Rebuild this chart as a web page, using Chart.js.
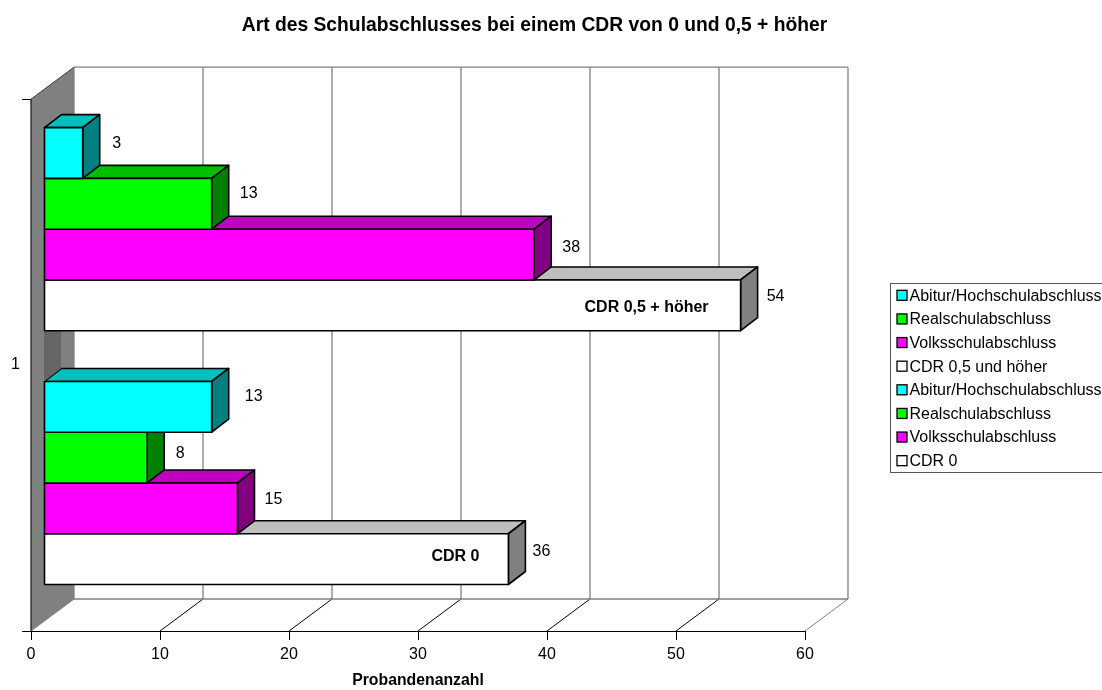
<!DOCTYPE html>
<html>
<head>
<meta charset="utf-8">
<title>Art des Schulabschlusses</title>
<script src="https://cdn.jsdelivr.net/npm/chart.js@4/dist/chart.umd.min.js"></script>
<style>
    body { margin: 0; background: #fff; }
    canvas { display: block; }
</style>
</head>
<body>
<canvas id="barChart" width="1102" height="690"></canvas>
<script>
const categories = ["1"];
const chartTitle = "Art des Schulabschlusses bei einem CDR von 0 und 0,5 + höher";
const axisTitle = "Probandenanzahl";

// first entries are the top bars, the unnamed one is the empty series between the two groups
const seriesNames = ["Abitur/Hochschulabschluss", "Realschulabschluss", "Volksschulabschluss", "CDR 0,5 und höher", "",
    "Abitur/Hochschulabschluss", "Realschulabschluss", "Volksschulabschluss", "CDR 0"];
const seriesValues = [3, 13, 38, 54, 0, 13, 8, 15, 36];
const barCaptions = ["", "", "", "CDR 0,5 + höher", "", "", "", "", "CDR 0"];

const frontColors = ["#00ffff", "#00ff00", "#ff00ff", "#ffffff", "#ffffff", "#00ffff", "#00ff00", "#ff00ff", "#ffffff"];
const topColors = ["#00bfbf", "#00bf00", "#bf00bf", "#bfbfbf", "#bfbfbf", "#00bfbf", "#00bf00", "#bf00bf", "#bfbfbf"];
const sideColors = ["#008080", "#008000", "#800080", "#808080", "#666666", "#008080", "#008000", "#800080", "#808080"];

// hand placed labels, relative to the end and middle of each bar
const labelNudge = [[34, -9], [37, -10], [37, -7], [35, -9], [0, 0], [42, -10], [33, -4], [36, -9], [33, -8]];
const captionNudge = [null, null, null, [-32, 2], null, null, null, null, [-29, -3]];

const FONT = "'Liberation Sans', Arial, sans-serif";
const WALL = { dx: 43, dy: -32 };
const BAR_SHIFT = { dx: 13, dy: -9 };
const BAR_DEPTH = { dx: 17, dy: -13 };
const GREY = "#808080";
const EDGE = 1.6;

function line(ctx, x1, y1, x2, y2, color, width) {
    ctx.strokeStyle = color;
    ctx.lineWidth = width;
    ctx.beginPath();
    ctx.moveTo(x1, y1);
    ctx.lineTo(x2, y2);
    ctx.stroke();
}

function poly(ctx, points, fill, outlined) {
    ctx.fillStyle = fill;
    ctx.strokeStyle = "#000";
    ctx.lineWidth = EDGE;
    ctx.lineJoin = "round";
    ctx.beginPath();
    points.forEach((p, i) => i ? ctx.lineTo(p[0], p[1]) : ctx.moveTo(p[0], p[1]));
    ctx.closePath();
    ctx.fill();
    if (outlined) ctx.stroke();
}

// Grey wall, back wall and floor lines behind the bars
const wallsPlugin = {
    id: "walls",
    beforeDatasetsDraw(chart) {
        const { ctx, chartArea: a, scales: { x } } = chart;
        const backTop = a.top + WALL.dy, backBottom = a.bottom + WALL.dy;
        ctx.save();
        ctx.fillStyle = GREY;
        ctx.beginPath();
        ctx.moveTo(a.left, a.top);
        ctx.lineTo(a.left + WALL.dx, backTop);
        ctx.lineTo(a.left + WALL.dx, backBottom);
        ctx.lineTo(a.left, a.bottom);
        ctx.closePath();
        ctx.fill();

        x.ticks.forEach((tick, i) => {
            const px = x.getPixelForTick(i);
            const last = i === x.ticks.length - 1;
            line(ctx, px + WALL.dx, backTop, px + WALL.dx, backBottom, GREY, 1.3);
            if (i > 0) line(ctx, px, a.bottom, px + WALL.dx, backBottom, last ? GREY : "#000", 1);
        });
        line(ctx, a.left + WALL.dx, backTop, a.right + WALL.dx, backTop, GREY, 1.3);
        line(ctx, a.left + WALL.dx, backBottom, a.right + WALL.dx, backBottom, GREY, 1.3);
        line(ctx, a.left, a.bottom, a.left + WALL.dx, backBottom, GREY, 1);
        line(ctx, a.left, a.top, a.left + WALL.dx, backTop, "#333", 1);
        line(ctx, a.left, a.top, a.left, a.bottom, "#222", 1.3);
        ctx.restore();

        // everything the datasets draw sits a bit behind the axis plane
        ctx.save();
        ctx.translate(BAR_SHIFT.dx, BAR_SHIFT.dy);
    },
    afterDatasetsDraw(chart) {
        chart.ctx.restore();
    }
};

// Top and side faces before each bar's front face, the outline after it
const depthPlugin = {
    id: "depth",
    beforeDatasetDraw(chart, args) {
        const ctx = chart.ctx;
        const i = args.index;
        const outlined = seriesNames[i] !== "";
        args.meta.data.forEach((bar) => {
            const top = bar.y - bar.height / 2;
            const bottom = bar.y + bar.height / 2;
            const d = BAR_DEPTH;
            if (outlined) poly(ctx, [[bar.base, top], [bar.x, top], [bar.x + d.dx, top + d.dy], [bar.base + d.dx, top + d.dy]], topColors[i], true);
            poly(ctx, [[bar.x, top], [bar.x + d.dx, top + d.dy], [bar.x + d.dx, bottom + d.dy], [bar.x, bottom]], sideColors[i], outlined);
        });
    },
    afterDatasetDraw(chart, args) {
        if (seriesNames[args.index] === "") return;
        const ctx = chart.ctx;
        args.meta.data.forEach((bar) => {
            ctx.save();
            ctx.strokeStyle = "#000";
            ctx.lineWidth = EDGE;
            ctx.strokeRect(bar.base, bar.y - bar.height / 2, bar.x - bar.base, bar.height);
            ctx.restore();
        });
    }
};

// Values next to the bars, captions inside the white bars
const labelsPlugin = {
    id: "barLabels",
    afterDraw(chart) {
        const ctx = chart.ctx;
        ctx.save();
        ctx.fillStyle = "#000";
        ctx.textBaseline = "middle";
        chart.data.datasets.forEach((ds, i) => {
            if (seriesNames[i] === "") return;
            const bar = chart.getDatasetMeta(i).data[0];
            const endX = bar.x + BAR_SHIFT.dx;
            const midY = bar.y + BAR_SHIFT.dy;
            ctx.font = "16px " + FONT;
            ctx.textAlign = "center";
            ctx.fillText(String(ds.data[0]), endX + labelNudge[i][0], midY + labelNudge[i][1]);
            if (barCaptions[i]) {
                ctx.font = "bold 16px " + FONT;
                ctx.textAlign = "right";
                ctx.fillText(barCaptions[i], endX + captionNudge[i][0], midY + captionNudge[i][1]);
            }
        });
        ctx.restore();
    }
};

// Legend box on the right, it runs off the edge of the page like in the original
const legendPlugin = {
    id: "sideLegend",
    afterDraw(chart) {
        const ctx = chart.ctx;
        const box = { left: 890.5, top: 283.5, bottom: 472.5 };
        const names = seriesNames.map((name, i) => ({ name, i })).filter((s) => s.name);
        const step = (box.bottom - box.top) / names.length;
        ctx.save();
        ctx.strokeStyle = "#555";
        ctx.lineWidth = 1;
        ctx.strokeRect(box.left, box.top, chart.width, box.bottom - box.top);
        ctx.font = "16px " + FONT;
        ctx.textBaseline = "middle";
        ctx.textAlign = "left";
        names.forEach((s, row) => {
            const cy = box.top + step * (row + 0.5);
            ctx.fillStyle = frontColors[s.i];
            ctx.strokeStyle = "#000";
            ctx.lineWidth = 1.3;
            ctx.fillRect(897, cy - 5, 10, 10);
            ctx.strokeRect(897, cy - 5, 10, 10);
            ctx.fillStyle = "#000";
            ctx.fillText(s.name, 909.5, cy + 1);
        });
        ctx.restore();
    }
};

// The title is centred over plot and legend together
const titlePlugin = {
    id: "titlePlace",
    afterLayout(chart) {
        chart.titleBlock.left = 0;
        chart.titleBlock.right = 1069;
    }
};

new Chart(document.getElementById("barChart"), {
    type: "bar",
    data: {
        labels: categories,
        datasets: seriesNames.map((name, i) => ({
            label: name,
            data: [seriesValues[i]],
            backgroundColor: frontColors[i],
            borderWidth: 0,
            inflateAmount: 0,
            categoryPercentage: 0.859,
            barPercentage: 1,
            clip: false
        }))
    },
    options: {
        indexAxis: "y",
        responsive: false,
        animation: false,
        layout: { padding: { right: 297 } },
        plugins: {
            legend: { display: false },
            tooltip: { enabled: false },
            title: {
                display: true,
                text: chartTitle,
                color: "#000",
                font: { family: FONT, size: 19.3, weight: "bold", lineHeight: 1.2 },
                padding: { top: 14, bottom: 62 }
            }
        },
        scales: {
            x: {
                min: 0,
                max: 60,
                ticks: { stepSize: 10, color: "#000", font: { family: FONT, size: 16 }, padding: 5, maxRotation: 0 },
                grid: { drawOnChartArea: false, tickLength: 9, color: "#000" },
                border: { color: "#000" },
                title: {
                    display: true,
                    text: axisTitle,
                    color: "#000",
                    font: { family: FONT, size: 15.8, weight: "bold" },
                    padding: 0
                },
                afterFit(scale) { scale.height = 59; }
            },
            y: {
                ticks: { color: "#000", font: { family: FONT, size: 16 }, padding: 2 },
                grid: { drawOnChartArea: false, tickLength: 9, color: "#000" },
                border: { color: "#000" },
                afterFit(scale) { scale.width = 31; }
            }
        }
    },
    plugins: [wallsPlugin, depthPlugin, labelsPlugin, legendPlugin, titlePlugin]
});
</script>
</body>
</html>
